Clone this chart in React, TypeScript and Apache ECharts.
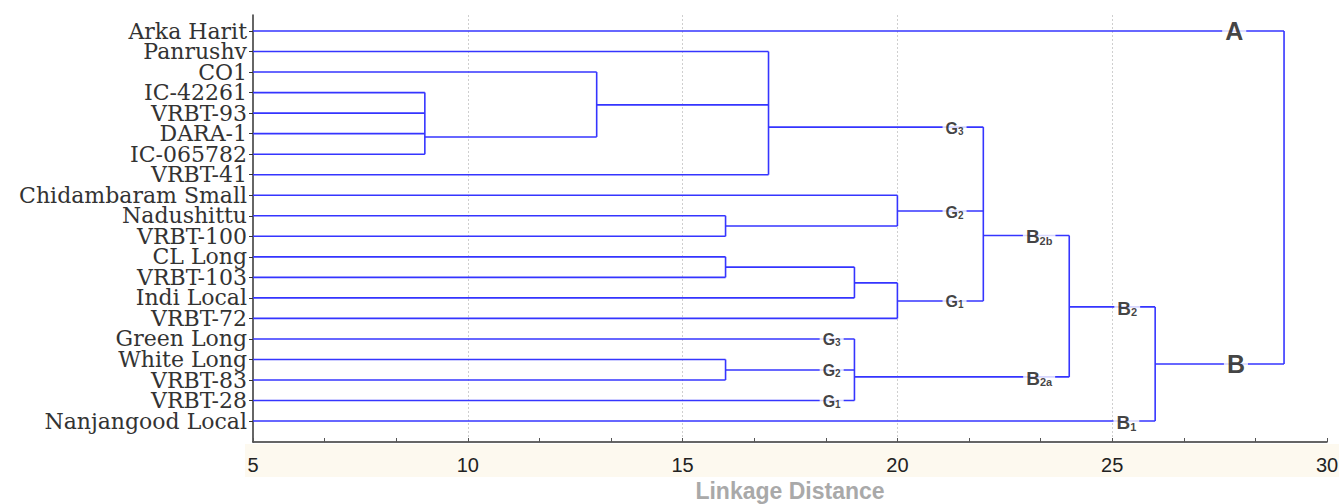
import React, { useEffect, useRef } from "react";
import * as echarts from "echarts";

// Leaves (top to bottom)
const leaves = [
  "Arka Harit", "Panrushv", "CO1", "IC-42261", "VRBT-93", "DARA-1", "IC-065782",
  "VRBT-41", "Chidambaram Small", "Nadushittu", "VRBT-100", "CL Long", "VRBT-103",
  "Indi Local", "VRBT-72", "Green Long", "White Long", "VRBT-83", "VRBT-28",
  "Nanjangood Local",
];

// Merge nodes: name, linkage distance, row position (in leaf rows), children
const mergeNames = ["n4", "n5", "n6", "n7", "n8", "n9", "n10", "n11", "n12", "n13", "n14", "n15", "n16", "root"];
const mergeHeights = [9, 13, 17, 16, 20, 16, 19, 20, 22, 16, 19, 24, 26, 29];
const mergeRows = [5.16, 3.6, 4.68, 9.5, 8.77, 11.5, 12.27, 13.15, 9.96, 16.51, 16.85, 13.44, 16.22, 8];
const mergeChildren = [
  ["IC-42261", "VRBT-93", "DARA-1", "IC-065782"],
  ["CO1", "n4"],
  ["Panrushv", "n5", "VRBT-41"],
  ["Nadushittu", "VRBT-100"],
  ["Chidambaram Small", "n7"],
  ["CL Long", "VRBT-103"],
  ["n9", "Indi Local"],
  ["n10", "VRBT-72"],
  ["n6", "n8", "n11"],
  ["White Long", "VRBT-83"],
  ["Green Long", "n13", "VRBT-28"],
  ["n12", "n14"],
  ["n15", "Nanjangood Local"],
  ["Arka Harit", "n16"],
];

// Cluster annotations
const clusterMain = ["G", "G", "G", "B", "G", "G", "G", "B", "B", "B", "A", "B"];
const clusterSub = ["3", "2", "1", "2b", "3", "2", "1", "2a", "2", "1", "", ""];
const clusterAt = [21.33, 21.33, 21.33, 23.3, 18.47, 18.47, 18.47, 23.3, 25.35, 25.33, 27.84, 27.88];
const clusterOn = ["n6", "n8", "n11", "n12", "Green Long", "n13", "VRBT-28", "n14", "n15", "Nanjangood Local", "Arka Harit", "n16"];
const clusterKind = ["g", "g", "g", "b", "g", "g", "g", "b", "b", "b", "big", "big"];

const xTicks = { min: 5, max: 30, interval: 5 };
const leafBase = 5;
const rowMin = -0.78;
const rowMax = 20.02;

function nodeInfo(name: string): { h: number; y: number } {
  const li = leaves.indexOf(name);
  if (li >= 0) return { h: leafBase, y: li };
  const mi = mergeNames.indexOf(name);
  return { h: mergeHeights[mi], y: mergeRows[mi] };
}

function buildSegments(): number[][] {
  const segs: number[][] = [];
  mergeNames.forEach((_, i) => {
    const h = mergeHeights[i];
    const ys: number[] = [];
    mergeChildren[i].forEach((c) => {
      const info = nodeInfo(c);
      ys.push(info.y);
      segs.push([info.h, info.y, h, info.y]);
    });
    segs.push([h, Math.min(...ys), h, Math.max(...ys)]);
  });
  return segs;
}

export default function App() {
  const ref = useRef<HTMLDivElement>(null);
  useEffect(() => {
    if (!ref.current) return;
    const chart = echarts.init(ref.current, null, { renderer: "svg" });
    const segments = buildSegments();
    const labelData = clusterMain.map((m, i) => ({
      value: [clusterAt[i], nodeInfo(clusterOn[i]).y],
      main: m,
      sub: clusterSub[i],
      kind: clusterKind[i],
    }));
    // label grid: leaf rows occupy whole bands, aligned with the value axis rows
    const top = 15;
    const height = 427;
    const unit = height / (rowMax - rowMin);
    const labelTop = top + (-0.5 - rowMin) * unit;
    const labelBottom = 504 - (top + (leaves.length - 0.5 - rowMin) * unit);
    const option: any = {
      animation: false,
      backgroundColor: "#ffffff",
      grid: [
        { left: 253, right: 12, top: top, bottom: 504 - top - height, containLabel: false, outerBoundsMode: "none" },
        { left: 253, right: 12, top: labelTop, bottom: labelBottom, containLabel: false, outerBoundsMode: "none" },
      ],
      graphic: {
        elements: [
          {
            type: "rect",
            z: -5,
            shape: { x: 245, y: 444, width: 1094, height: 33 },
            style: { fill: "#fdf9ef" },
          },
        ],
      },
      xAxis: [
        {
          type: "value",
          gridIndex: 0,
          min: xTicks.min,
          max: xTicks.max,
          interval: xTicks.interval,
          name: "Linkage Distance",
          nameLocation: "middle",
          nameGap: 37,
          nameTextStyle: { color: "#a9a9a9", fontSize: 23, fontWeight: "bold", fontFamily: "Liberation Sans" },
          axisLine: { show: true, onZero: false, lineStyle: { color: "#333", width: 1.5 } },
          axisTick: { show: true, inside: true, length: 4, lineStyle: { color: "#555" } },
          minorTick: { show: true, splitNumber: 3, length: 4, lineStyle: { color: "#555" } },
          axisLabel: { color: "#222", fontSize: 20, fontFamily: "Liberation Sans", margin: 13 },
          splitLine: {
            show: true,
            showMinLine: false,
            showMaxLine: false,
            lineStyle: { color: "#cfcfcf", type: [2, 2], width: 1 },
          },
        },
        { type: "value", gridIndex: 1, min: xTicks.min, max: xTicks.max, show: false },
      ],
      yAxis: [
        {
          type: "value",
          gridIndex: 0,
          inverse: true,
          min: rowMin,
          max: rowMax,
          axisLine: { show: true, onZero: false, lineStyle: { color: "#333", width: 1.5 } },
          axisTick: { show: false },
          axisLabel: { show: false },
          splitLine: { show: false },
        },
        {
          type: "category",
          gridIndex: 1,
          inverse: true,
          data: leaves,
          axisLine: { show: false, onZero: false },
          axisTick: { show: true, inside: false, length: 4, alignWithLabel: true, interval: 0, lineStyle: { color: "#333" } },
          axisLabel: {
            interval: 0,
            color: "#333",
            fontSize: 22,
            lineHeight: 18,
            fontFamily: "DejaVu Serif",
            margin: 6,
          },
          splitLine: { show: false },
        },
      ],
      series: [
        {
          type: "custom",
          xAxisIndex: 0,
          yAxisIndex: 0,
          encode: { x: [0, 2], y: [1, 3] },
          data: segments,
          z: 3,
          renderItem: (params: any, api: any) => {
            const p1 = api.coord([api.value(0), api.value(1)]);
            const p2 = api.coord([api.value(2), api.value(3)]);
            return {
              type: "line",
              shape: { x1: p1[0], y1: p1[1], x2: p2[0], y2: p2[1] },
              style: { stroke: "#3535ff", lineWidth: 1.6 },
            };
          },
        },
        {
          type: "scatter",
          xAxisIndex: 0,
          yAxisIndex: 0,
          z: 5,
          symbolSize: 1,
          itemStyle: { color: "rgba(0,0,0,0)" },
          data: labelData,
          label: {
            show: true,
            position: "inside",
            backgroundColor: "#ffffff",
            padding: [1, 3],
            formatter: (p: any) => {
              const d = p.data;
              if (d.kind === "big") return `{big|${d.main}}`;
              if (d.kind === "b") return `{b|${d.main}}{bs|${d.sub}}`;
              return `{g|${d.main}}{gs|${d.sub}}`;
            },
            rich: {
              g: { fontSize: 16, fontWeight: "bold", fontFamily: "Liberation Sans", color: "#111", lineHeight: 18, verticalAlign: "bottom" },
              gs: { fontSize: 10, fontWeight: "bold", fontFamily: "Liberation Sans", color: "#111", lineHeight: 9, verticalAlign: "bottom" },
              b: { fontSize: 19, fontWeight: "bold", fontFamily: "Liberation Sans", color: "#111", lineHeight: 22, verticalAlign: "bottom" },
              bs: { fontSize: 11, fontWeight: "bold", fontFamily: "Liberation Sans", color: "#111", lineHeight: 11, verticalAlign: "bottom" },
              big: { fontSize: 25, fontWeight: "bold", fontFamily: "Liberation Sans", color: "#111", lineHeight: 25 },
            },
          },
        },
      ],
    };
    chart.setOption(option);
    return () => chart.dispose();
  }, []);
  return (
    <div
      ref={ref}
      style={{ position: "fixed", left: 0, top: 0, width: 1339, height: 504 }}
    />
  );
}
